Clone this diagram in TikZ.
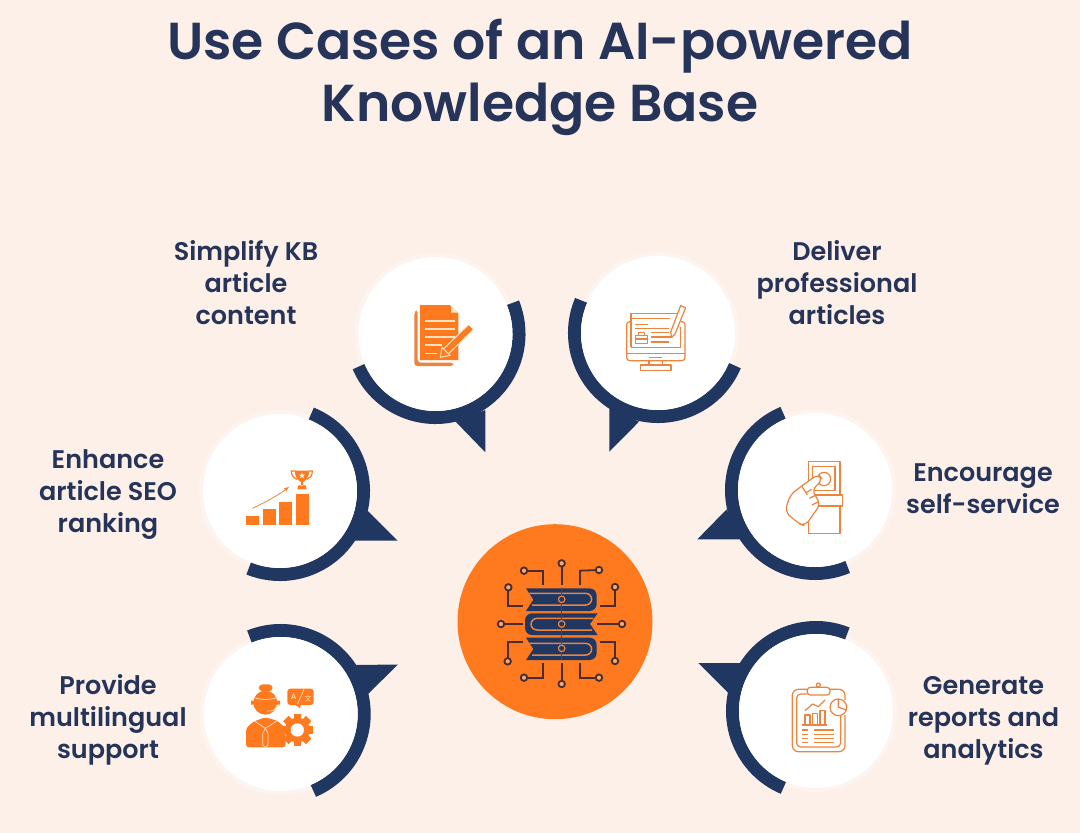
\documentclass[tikz,border=0pt]{standalone}
\usepackage{fontspec}
\setmainfont{Poppins}[UprightFont=* Medium,BoldFont=* SemiBold]
\newfontfamily\cjk{Noto Sans CJK SC}
\usetikzlibrary{shapes.geometric}
\definecolor{paper}{RGB}{253,240,233}
\definecolor{navy}{RGB}{32,55,98}
\definecolor{ink}{RGB}{38,52,90}
\definecolor{tangerine}{RGB}{255,122,30}
\definecolor{copper}{RGB}{236,132,62}
\definecolor{cream}{RGB}{255,226,190}
\definecolor{wire}{RGB}{72,44,48}
\tikzset{
  >=latex,
  spot/.style ={circle,fill=white,inner sep=0,minimum size=154pt},
  halo/.style ={circle,fill=white,opacity=.3,inner sep=0,minimum size=162pt},
  hub/.style ={circle,fill=tangerine,inner sep=0,minimum size=195pt},
  ring/.style ={line width=13pt,navy},
  tail/.style ={fill=navy},
  caption/.style ={align=center,text=ink,font=\fontsize{25.5}{32}\selectfont\bfseries},
  headline/.style ={align=center,text=ink,font=\fontsize{52}{62.6}\selectfont\bfseries,inner sep=0},
  thin icon/.style ={draw=copper,line width=1.2pt,line join=round},
  solid icon/.style ={fill=tangerine},
  cut/.style ={draw=cream,line width=1.5pt},
  trace/.style ={draw=wire,line width=1.8pt},
  pin/.style ={circle,draw=wire,fill=copper!70,line width=1.8pt,inner sep=0,minimum size=6.5pt},
  bead/.style ={circle,draw=copper,fill=navy,line width=1.2pt,inner sep=0,minimum size=6.5pt},
  book/.style ={fill=navy},
  leaf/.style ={draw=copper,line width=1.5pt},
}
\begin{document}
\begin{tikzpicture}[x=1pt,y=-1pt]
\fill[paper] (0,0) rectangle (1080,833);
\useasboundingbox (0,0) rectangle (1080,833);

\node[headline] (title) at (540,77.5) {Use Cases of an AI-powered\\Knowledge Base};

% speech tails
\fill[tail] (455.7,421.7) -- (485.3,452.3) -- (485.3,410) -- cycle;
\fill[tail] (609.3,408) -- (609.3,451.7) -- (639,421.7) -- cycle;
\fill[tail] (367.7,510.7) -- (397.7,540.7) -- (355,540.7) -- cycle;
\fill[tail] (355.7,665) -- (398,664.5) -- (368,694) -- cycle;
\fill[tail] (726.7,509.3) -- (697.3,539.3) -- (740.7,539.3) -- cycle;
\fill[tail] (741.7,663) -- (698.3,663) -- (728.3,693) -- cycle;

% rings with their white discs
\foreach \name/\cx/\cy/\from/\to in {simplify/435.5/334/22/-157, deliver/658/333/157/337,
    enhance/280/491/68/-112, provide/280.7/714/112/-67,
    encourage/815/490/112.5/293, generate/816/711/68/247}{
  \node[halo] (\name halo) at (\cx,\cy) {};
  \draw[ring] (\cx,\cy) ++(\from:83.5pt) arc[start angle=\from,end angle=\to,radius=83.5pt];
  \node[spot] (\name) at (\cx,\cy) {};
}
\node[hub] (hub) at (555,621.7) {};

\node[caption] (simplify text) at (246,283) {Simplify KB\\article\\content};
\node[caption] (deliver text) at (837,283) {Deliver\\professional\\articles};
\node[caption] (enhance text) at (108,495) {Enhance\\article SEO\\ranking};
\node[caption] (encourage text) at (983,489) {Encourage\\self-service};
\node[caption] (provide text) at (108,720) {Provide\\multilingual\\support};
\node[caption] (generate text) at (983.5,720.5) {Generate\\reports and\\analytics};

% document and pen
\begin{scope}[shift={(340,240)},scale=1/3]
\fill[copper,rounded corners=3pt] (223,215) -- (223,378) -- (340,378) -- (340,368) -- (233,368) -- (233,210) -- cycle;
\fill[solid icon] (240,195) -- (330,195) -- (355,220) -- (355,360) -- (240,360) -- cycle;
\fill[cream] (333,197) -- (353,218) -- (333,218) -- cycle;
\foreach \ly/\lx in {243/345,267/345,291/345,315/305,340/290}
  \draw[cut] (255,\ly) -- (\lx,\ly);
\draw[cream,line width=8pt] (392,262) -- (318,334);
\draw[tangerine,line width=5.5pt] (392,262) -- (318,334);
\fill[tangerine,draw=cream,line width=1pt] (306,322) -- (330,346) -- (301,352) -- cycle;
\end{scope}

% monitor with article
\begin{scope}[shift={(340,240)},scale=1/3]
\draw[thin icon,rounded corners=3pt] (873,245) -- (860,245) -- (860,362) -- (1035,362) -- (1035,245) -- (1022,245);
\draw[thin icon] (860,340) -- (1035,340);
\draw[thin icon] (873,322) -- (873,220) -- (1010,220);
\draw[thin icon] (1022,260) -- (1022,322) -- (873,322);
\draw[thin icon] (873,236) -- (990,236);
\draw[thin icon] (885,254) -- (925,254) (885,266) -- (988,266);
\draw[thin icon] (932,278) -- (988,278) (932,291) -- (995,291) (932,306) -- (988,306);
\draw[thin icon] (887,287) rectangle (922,310) (895,287) -- (895,277) -- (914,277) -- (914,287) (887,297) -- (922,297);
\draw[thin icon] (1022,197) -- (1037,203) -- (1005,282) -- (995,292) -- (992,276) -- cycle;
\draw[thin icon] (927,352) -- (967,352) (927,362) -- (927,375) (967,362) -- (967,375);
\draw[thin icon] (901,375) rectangle (993,392);
\end{scope}

% rising bars and trophy
\begin{scope}[shift={(190,400)},scale=1/3]
\foreach \bx/\by in {168/347,218/327,267/307,317/281}
  \fill[solid icon] (\bx,\by) rectangle ++(40,{375-\by});
\draw[copper,line width=.8pt,->] (187,325) .. controls (230,305) and (265,285) .. (298,260);
\fill[solid icon] (315,212) -- (357,212) .. controls (357,235) and (345,245) .. (336,247) .. controls (327,245) and (315,235) .. (315,212) -- cycle;
\draw[tangerine,line width=1.2pt] (315,213) -- (304,213) .. controls (304,228) and (312,235) .. (322,238);
\draw[tangerine,line width=1.2pt] (357,213) -- (367,213) .. controls (367,228) and (359,235) .. (350,238);
\fill[solid icon] (333,245) rectangle (339,258) (325,256) -- (347,256) -- (350,268) -- (322,268) -- cycle;
\node[star,star points=5,star point ratio=2.2,fill=white,inner sep=0,minimum size=6pt] (cup star) at (336,227) {};
\end{scope}

% agent, translation and gear
\begin{scope}[shift={(190,400)},scale=1/3]
\fill[solid icon,rounded corners=4pt] (206,853) rectangle (248,874);
\fill[solid icon] (226,908) circle[radius=36];
\fill[solid icon] (183,902) rectangle (196,914) (256,902) rectangle (270,914);
\draw[cut,line width=.7pt] (192,893) .. controls (215,900) and (240,900) .. (260,893);
\draw[cut,line width=.7pt] (260,915) .. controls (258,930) and (245,935) .. (232,933);
\fill[solid icon,rounded corners=3pt] (168,1042) -- (168,985) -- (190,965) -- (225,952) -- (262,962) -- (287,985) -- (287,1042) -- cycle;
\draw[cut,line width=.7pt] (192,962) -- (226,985) -- (262,962) (226,985) -- (218,1000) -- (218,1035) -- (226,1042) -- (234,1035) -- (234,1000) -- cycle;
\fill[solid icon,rounded corners=3pt] (292,866) rectangle (371,915);
\fill[solid icon] (315,914) -- (332,914) -- (330,925) -- cycle;
\draw[cut,line width=.7pt] (342,868) -- (322,913);
\node[text=cream,inner sep=0,font=\fontsize{8}{8}\selectfont] (letter a) at (311,889) {A};
\node[text=cream,inner sep=0,font=\cjk\fontsize{7}{7}\selectfont] (letter b) at (354,896) {文};
\foreach \ang in {0,45,...,315}
  \fill[solid icon,rotate around={\ang:(322,990)}] (311,942) rectangle (333,1038);
\fill[solid icon] (322,990) circle[radius=37];
\fill[white] (322,990) circle[radius=20];
\end{scope}

% finger on a button
\begin{scope}[shift={(690,400)},scale=1/3]
\draw[thin icon] (355,185) rectangle (450,285);
\draw[thin icon] (368,200) rectangle (435,272);
\draw[thin icon] (402,237) circle[radius=20];
\draw[thin icon] (355,318) -- (355,400) -- (450,400) -- (450,318);
\draw[thin icon] (355,285) rectangle (458,318);
\draw[thin icon,fill=white,rounded corners=6pt] (285,335) -- (300,285) -- (335,258) -- (385,222) -- (398,240) -- (365,270) -- (392,312) -- (345,378) -- (325,370) -- cycle;
\draw[thin icon] (335,258) -- (352,285) (348,278) -- (365,268) (358,295) -- (378,285) (366,315) -- (386,305);
\end{scope}

% clipboard with report
\begin{scope}[shift={(690,400)},scale=1/3]
\draw[thin icon,rounded corners=6pt] (352,868) -- (307,868) -- (307,1055) -- (465,1055) -- (465,945);
\draw[thin icon,rounded corners=6pt] (420,868) -- (465,868) -- (465,900);
\draw[thin icon,rounded corners=4pt] (352,882) -- (320,882) -- (320,1041) -- (452,1041) -- (452,948);
\draw[thin icon,rounded corners=3pt] (352,862) rectangle (420,885);
\draw[thin icon] (385,855) circle[radius=6];
\draw[thin icon,fill=white] (445,922) circle[radius=25];
\draw[thin icon] (445,922) -- (445,897) (445,922) -- (470,930);
\foreach \bx/\by in {345/945,367/940,390/932}
  \draw[thin icon] (\bx,975) -- (\bx,\by) -- ++(15,0) -- (\bx+15,975);
\draw[thin icon] (337,975) -- (412,975);
\draw[thin icon] (345,932) -- (368,912) -- (385,920) -- (405,900);
\foreach \ly in {990,1003,1015,1027}
  \draw[thin icon] (337,\ly) -- (355,\ly) (372,\ly) -- (432,\ly);
\end{scope}

% books and circuit in the hub
\begin{scope}[shift={(450,525)},scale=1/3]
\fill[book] (228,190) [rounded corners=7pt] -- (440,190) -- (440,258) [sharp corners] -- (228,258) -- (250,224) -- cycle;
\fill[book] (443,265) [rounded corners=7pt] -- (225,265) -- (225,330) [sharp corners] -- (443,330) -- (420,297) -- cycle;
\fill[book] (228,338) [rounded corners=7pt] -- (440,338) -- (440,405) [sharp corners] -- (228,405) -- (250,372) -- cycle;
\draw[leaf] (238,205) [rounded corners=6pt] -- (425,205) -- (425,240) [sharp corners] -- (246,240);
\draw[leaf] (430,280) [rounded corners=6pt] -- (243,280) -- (243,315) [sharp corners] -- (426,315);
\draw[leaf] (238,355) [rounded corners=6pt] -- (425,355) -- (425,390) [sharp corners] -- (246,390);
\draw[navy!80!copper,line width=.4pt] (335,190) -- (335,405);
\foreach \by in {223,297,370}
  \node[bead] (bead \by) at (335,\by) {};
\foreach \ax/\ay/\bx/\by/\cx/\cy in {335/180/335/150/335/115, 278/180/278/137/222/137, 390/180/390/137/447/135,
    220/242/175/242/175/187, 450/242/495/242/495/186, 218/297/190/297/153/297, 440/297/480/297/516/297,
    218/352/173/352/173/409, 450/352/495/352/495/408, 278/415/278/458/222/458, 335/415/335/440/335/477, 390/415/390/458/447/458}{
  \draw[trace] (\ax,\ay) -- (\bx,\by) -- (\cx,\cy);
  \node[pin] (pin \cx \cy) at (\cx,\cy) {};
}
\end{scope}
\end{tikzpicture}
\end{document}
